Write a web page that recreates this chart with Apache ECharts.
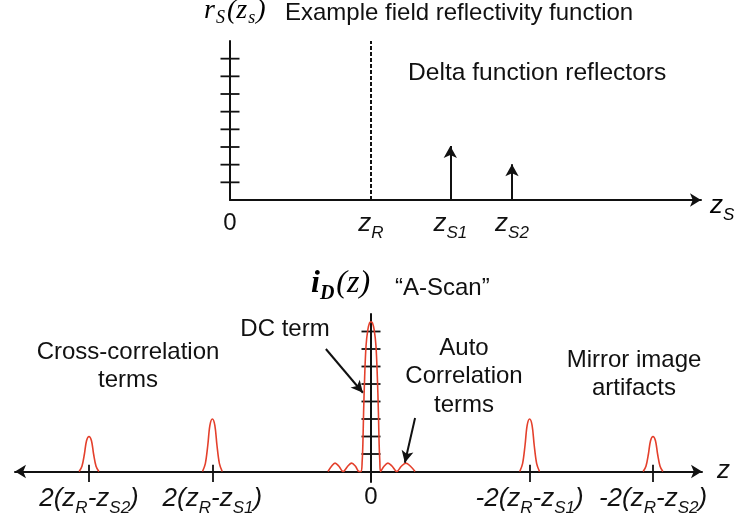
<!DOCTYPE html>
<html>
<head>
<meta charset="utf-8">
<script src="https://cdn.jsdelivr.net/npm/echarts@6/dist/echarts.min.js"></script>
<style>
html,body{margin:0;padding:0;background:#fff;}
#c{width:744px;height:519px;}
</style>
</head>
<body>
<div id="c"></div>
<script>
// ---------- data ----------
// top: field reflectivity (positions in z_s units)
var zR = 4;
var reflectorPos = [6.25, 8];
var reflectorAmp = [3.05, 2.03];
var topTickValues = [1, 2, 3, 4, 5, 6, 7, 8];
var topLabelPos = [0, 4, 6.25, 8];
var topLabelText = ['{n|0}', '{m|z}{s|R}', '{m|z}{s|S1}', '{m|z}{s|S2}'];

// bottom: A-scan peaks (z units)
var crossLeftOuter = [[-8.28,0],[-8.2,0.3],[-8.13,1.0],[-8.07,1.76],[-8,2.0],[-7.93,1.76],[-7.87,1.0],[-7.8,0.3],[-7.72,0]];
var crossLeftInner = [[-4.78,0],[-4.7,0.45],[-4.63,1.5],[-4.57,2.64],[-4.5,3.0],[-4.43,2.64],[-4.37,1.5],[-4.3,0.45],[-4.22,0]];
var mirrorInner = [[4.22,0],[4.3,0.45],[4.37,1.5],[4.43,2.64],[4.5,3.0],[4.57,2.64],[4.63,1.5],[4.7,0.45],[4.78,0]];
var mirrorOuter = [[7.72,0],[7.8,0.3],[7.87,1.0],[7.93,1.76],[8,2.0],[8.07,1.76],[8.13,1.0],[8.2,0.3],[8.28,0]];
var centralGroup = [[-1.22,0],[-1.12,0.3],[-1.02,0.48],[-0.91,0.3],[-0.79,0],[-0.66,0.3],[-0.55,0.48],[-0.44,0.3],[-0.34,0],
  [-0.28,0],[-0.25,0.6],[-0.23,1.6],[-0.21,3.4],[-0.18,5.4],[-0.14,7.2],[-0.09,8.1],[-0.04,8.5],[0,8.56],
  [0.04,8.5],[0.09,8.1],[0.14,7.2],[0.18,5.4],[0.21,3.4],[0.23,1.6],[0.25,0.6],[0.27,0],
  [0.37,0.3],[0.48,0.48],[0.6,0.3],[0.73,0],[0.86,0.3],[0.99,0.48],[1.12,0.3],[1.25,0]];
var bottomTickValues = [1, 2, 3, 4, 5, 6, 7, 8];
var bottomMarkPos = [-8, -4.5, 4.5, 8];
var bottomLabelPos = [-8, -4.5, 0, 4.5, 8];
var bottomLabelText = [
  '{m|2(z}{s|R}{m|-z}{s|S2}{m|)}',
  '{m|2(z}{s|R}{m|-z}{s|S1}{m|)}',
  '{n|0}',
  '{m|-2(z}{s|R}{m|-z}{s|S1}{m|)}',
  '{m|-2(z}{s|R}{m|-z}{s|S2}{m|)}'
];
// annotation arrows [from, to] in bottom data units
var dcArrow = [[-1.28, 7.0], [-0.23, 4.5]];
var autoArrow = [[1.25, 3.06], [0.96, 0.5]];

// ---------- styles ----------
var SANS = "'Liberation Sans', Arial, Helvetica, sans-serif";
var SERIF = "'Liberation Serif', 'Times New Roman', 'DejaVu Serif', serif";
var INK = '#111';
var RED = '#e4402c';

var labelRich = {
  m: {fontFamily: SANS, fontStyle: 'italic', fontSize: 26, lineHeight: 26, verticalAlign: 'top', color: INK},
  s: {fontFamily: SANS, fontStyle: 'italic', fontSize: 17, lineHeight: 17, padding: [14, 0, 0, 0], verticalAlign: 'top', color: INK},
  n: {fontFamily: SANS, fontSize: 24, lineHeight: 26, verticalAlign: 'top', color: INK}
};

function axisCommon(show) {
  return {
    axisLine: {show: show, onZero: true, lineStyle: {color: INK, width: 2}},
    axisTick: {show: false}, axisLabel: {show: false}, splitLine: {show: false}
  };
}

var chart = echarts.init(document.getElementById('c'), null, {renderer: 'canvas'});

var option = {
  animation: false,
  backgroundColor: '#fff',
  grid: [
    {left: 230, top: 41, width: 471, height: 159, containLabel: false, outerBoundsMode: 'none'},
    {left: 15, top: 314, width: 687, height: 168, containLabel: false, outerBoundsMode: 'none'}
  ],
  xAxis: [
    Object.assign({type: 'value', gridIndex: 0, min: 0, max: 471 / 35.25}, axisCommon(true), {
      axisLine: {show: true, onZero: true, symbol: ['none', 'arrow'], symbolSize: [10, 11], lineStyle: {color: INK, width: 2}}
    }),
    Object.assign({type: 'value', gridIndex: 1, min: -356 / 35.25, max: 331 / 35.25}, axisCommon(true), {
      axisLine: {show: true, onZero: true, symbol: ['arrow', 'arrow'], symbolSize: [10, 11], lineStyle: {color: INK, width: 2}}
    })
  ],
  yAxis: [
    Object.assign({type: 'value', gridIndex: 0, min: 0, max: 9}, axisCommon(true)),
    Object.assign({type: 'value', gridIndex: 1, min: -0.6, max: 9}, axisCommon(true))
  ],
  series: [
    // top: y-axis crossing ticks
    {type: 'scatter', xAxisIndex: 0, yAxisIndex: 0, silent: true, symbol: 'rect', symbolSize: [19, 1.8],
      itemStyle: {color: INK, opacity: 1}, data: topTickValues.map(function (v) { return [0, v]; }), z: 3},
    // top: reference plane dashed + reflectors
    {type: 'line', xAxisIndex: 0, yAxisIndex: 0, data: [], silent: true,
      markLine: {silent: true, animation: false, label: {show: false}, symbol: ['none', 'none'],
        lineStyle: {color: INK, width: 2, type: [4, 2]},
        data: [[{coord: [zR, 0]}, {coord: [zR, 9]}]]}},
    {type: 'line', xAxisIndex: 0, yAxisIndex: 0, data: [], silent: true,
      markLine: {silent: true, animation: false, label: {show: false}, symbol: ['none', 'arrow'], symbolSize: [10, 12],
        lineStyle: {color: INK, width: 2, type: 'solid'},
        data: reflectorPos.map(function (x, i) { return [{coord: [x, 0]}, {coord: [x, reflectorAmp[i]]}]; })}},
    // top labels
    {type: 'scatter', xAxisIndex: 0, yAxisIndex: 0, silent: true, symbolSize: 0, itemStyle: {opacity: 1},
      data: topLabelPos.map(function (x, i) { return {value: [x, 0], label: {formatter: topLabelText[i]}}; }),
      label: {show: true, position: 'inside', offset: [0, 24], rich: labelRich}},
    // bottom: y-axis crossing ticks
    {type: 'scatter', xAxisIndex: 1, yAxisIndex: 1, silent: true, symbol: 'rect', symbolSize: [19, 1.8],
      itemStyle: {color: INK, opacity: 1}, data: bottomTickValues.map(function (v) { return [0, v]; }), z: 3},
    // bottom: x marks
    {type: 'line', xAxisIndex: 1, yAxisIndex: 1, data: [], silent: true,
      markLine: {silent: true, animation: false, label: {show: false}, symbol: ['none', 'none'],
        lineStyle: {color: INK, width: 1.8, type: 'solid'},
        data: bottomMarkPos.map(function (x) { return [{coord: [x, -0.6]}, {coord: [x, 0.38]}]; })}},
    // bottom: peaks
    {type: 'line', xAxisIndex: 1, yAxisIndex: 1, silent: true, smooth: 0.35, showSymbol: false, symbol: 'none',
      lineStyle: {color: RED, width: 1.6}, data: crossLeftOuter, z: 4},
    {type: 'line', xAxisIndex: 1, yAxisIndex: 1, silent: true, smooth: 0.35, showSymbol: false, symbol: 'none',
      lineStyle: {color: RED, width: 1.6}, data: crossLeftInner, z: 4},
    {type: 'line', xAxisIndex: 1, yAxisIndex: 1, silent: true, smooth: 0.35, showSymbol: false, symbol: 'none',
      lineStyle: {color: RED, width: 1.6}, data: centralGroup, z: 4},
    {type: 'line', xAxisIndex: 1, yAxisIndex: 1, silent: true, smooth: 0.35, showSymbol: false, symbol: 'none',
      lineStyle: {color: RED, width: 1.6}, data: mirrorInner, z: 4},
    {type: 'line', xAxisIndex: 1, yAxisIndex: 1, silent: true, smooth: 0.35, showSymbol: false, symbol: 'none',
      lineStyle: {color: RED, width: 1.6}, data: mirrorOuter, z: 4},
    // bottom: annotation arrows
    {type: 'line', xAxisIndex: 1, yAxisIndex: 1, data: [], silent: true, z: 5,
      markLine: {silent: true, animation: false, label: {show: false}, symbol: ['none', 'arrow'], symbolSize: [9, 12],
        lineStyle: {color: INK, width: 2, type: 'solid'},
        data: [[{coord: dcArrow[0]}, {coord: dcArrow[1]}], [{coord: autoArrow[0]}, {coord: autoArrow[1]}]]}},
    // bottom labels
    {type: 'scatter', xAxisIndex: 1, yAxisIndex: 1, silent: true, symbolSize: 0, itemStyle: {opacity: 1},
      data: bottomLabelPos.map(function (x, i) { return {value: [x, 0], label: {formatter: bottomLabelText[i]}}; }),
      label: {show: true, position: 'inside', offset: [0, 27], rich: labelRich}}
  ],
  graphic: [
    {type: 'text', left: 204, top: -3, silent: true, style: {
      text: '{t|r}{ts|S}{g| }{t|(z}{ts|s}{t|)}',
      rich: {
        t: {fontFamily: SERIF, fontStyle: 'italic', fontSize: 28, lineHeight: 28, verticalAlign: 'top', color: INK},
        ts: {fontFamily: SERIF, fontStyle: 'italic', fontSize: 18, lineHeight: 18, padding: [12, 1, 0, 1], verticalAlign: 'top', color: INK},
        g: {fontSize: 4, lineHeight: 4, verticalAlign: 'top'}
      }}},
    {type: 'text', x: 285, y: 13, silent: true, style: {text: 'Example field reflectivity function', font: '24px ' + SANS, fill: INK, align: 'left', verticalAlign: 'middle'}},
    {type: 'text', x: 408, y: 73, silent: true, style: {text: 'Delta function reflectors', font: '24.6px ' + SANS, fill: INK, align: 'left', verticalAlign: 'middle'}},
    {type: 'text', x: 710, y: 206, silent: true, style: {
      text: '{m|z}{s|S}', rich: labelRich, align: 'left', verticalAlign: 'middle'}},
    {type: 'text', left: 311, top: 268, silent: true, style: {
      text: '{t|i}{ts|D}{u|(z)}',
      rich: {
        t: {fontFamily: SERIF, fontStyle: 'italic', fontWeight: 'bold', fontSize: 32, lineHeight: 32, verticalAlign: 'top', color: INK},
        ts: {fontFamily: SERIF, fontStyle: 'italic', fontWeight: 'bold', fontSize: 20, lineHeight: 20, padding: [16, 2, 0, 0], verticalAlign: 'top', color: INK},
        u: {fontFamily: SERIF, fontStyle: 'italic', fontSize: 32, lineHeight: 32, verticalAlign: 'top', color: INK}
      }}},
    {type: 'text', x: 395, y: 288, silent: true, style: {text: '\u201cA-Scan\u201d', font: '24px ' + SANS, fill: INK, align: 'left', verticalAlign: 'middle'}},
    {type: 'text', x: 285, y: 329, silent: true, style: {text: 'DC term', font: '24px ' + SANS, fill: INK, align: 'center', verticalAlign: 'middle'}},
    {type: 'text', x: 128, y: 366, silent: true, style: {text: 'Cross-correlation\nterms', font: '24px ' + SANS, lineHeight: 28, fill: INK, align: 'center', verticalAlign: 'middle'}},
    {type: 'text', x: 464, y: 376.5, silent: true, style: {text: 'Auto\nCorrelation\nterms', font: '24px ' + SANS, lineHeight: 28.5, fill: INK, align: 'center', verticalAlign: 'middle'}},
    {type: 'text', x: 634, y: 374, silent: true, style: {text: 'Mirror image\nartifacts', font: '24px ' + SANS, lineHeight: 28, fill: INK, align: 'center', verticalAlign: 'middle'}},
    {type: 'text', x: 717, y: 471, silent: true, style: {text: 'z', font: 'italic 26px ' + SANS, fill: INK, align: 'left', verticalAlign: 'middle'}}
  ]
};
chart.setOption(option);
</script>
</body>
</html>
